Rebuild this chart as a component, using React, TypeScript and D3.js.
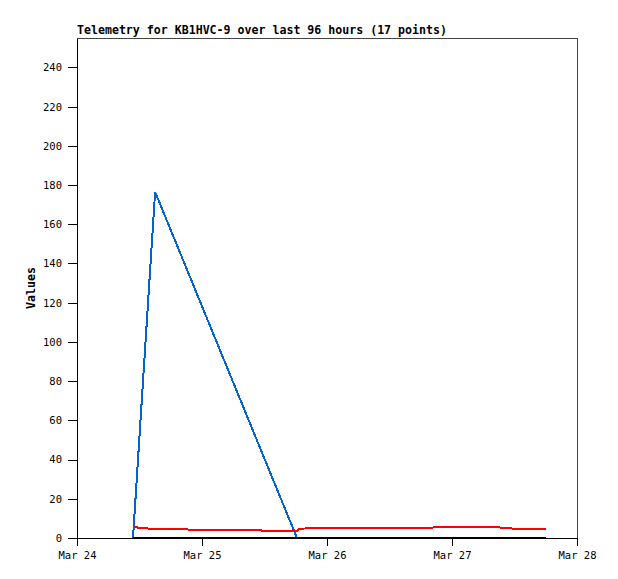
import * as d3 from "d3";
import { useEffect, useRef } from "react";

// sample times (Mar 24..27), 17 points
const TIMES = [
  "2024-03-24T10:45", "2024-03-24T11:42", "2024-03-24T13:50", "2024-03-24T15:00",
  "2024-03-24T21:42", "2024-03-25T05:22", "2024-03-25T11:43", "2024-03-25T18:14",
  "2024-03-25T18:49", "2024-03-26T05:11", "2024-03-26T14:00", "2024-03-26T19:47",
  "2024-03-27T01:32", "2024-03-27T07:18", "2024-03-27T11:43", "2024-03-27T14:59",
  "2024-03-27T18:03",
];
const BLUE = [0, null, null, 176.5, null, null, null, 0, 0, 0, 0, 0, 0, 0, 0, 0, 0];
const RED = [6.1, 5.3, 4.8, 4.8, 4.3, 4.3, 3.8, 3.6, 4.8, 5.3, 5.3, 5.3, 5.8, 5.8, 4.8, 4.8, 4.8];
const BLACK = [0, 0, 0, 0, 0, 0, 0, 0, 0, 0, 0, 0, 0, 0, 0, 0, 0];
const Y_TICKS = [0, 20, 40, 60, 80, 100, 120, 140, 160, 180, 200, 220, 240];
const TITLE = "Telemetry for KB1HVC-9 over last 96 hours (17 points)";

const MONO = "'DejaVu Sans Mono', 'Liberation Mono', monospace";

export default function App() {
  const ref = useRef<SVGSVGElement | null>(null);
  useEffect(() => {
    if (!ref.current) return;
    const svg = d3.select(ref.current);
    svg.selectAll("*").remove();
    const width = 618, height = 579;
    const m = { top: 38, right: 41, bottom: 41, left: 77 };
    const parse = d3.timeParse("%Y-%m-%dT%H:%M");
    const dates = TIMES.map((t) => parse(t) as Date);

    const x = d3.scaleTime()
      .domain([parse("2024-03-24T00:00") as Date, parse("2024-03-28T00:00") as Date])
      .range([m.left, width - m.right]);
    const y = d3.scaleLinear().domain([0, 255]).range([height - m.bottom, m.top]);

    svg.append("rect")
      .attr("x", m.left).attr("y", m.top)
      .attr("width", width - m.left - m.right).attr("height", height - m.top - m.bottom)
      .attr("fill", "white").attr("stroke", "#444").attr("stroke-width", 1)
      .attr("shape-rendering", "crispEdges");

    const series: { vals: (number | null)[]; color: string }[] = [
      { vals: BLUE, color: "#0066cc" },
      { vals: RED, color: "#ff0000" },
      { vals: BLACK, color: "#000000" },
    ];
    const line = d3.line<[Date, number | null]>()
      .defined((d) => d[1] != null)
      .x((d) => x(d[0]))
      .y((d) => y(d[1] as number));
    series.forEach((s) => {
      const pts = dates.map((d, i) => [d, s.vals[i]] as [Date, number | null]).filter((p) => p[1] != null);
      svg.append("path")
        .attr("d", line(pts))
        .attr("fill", "none")
        .attr("stroke", s.color)
        .attr("stroke-width", 2)
        .attr("shape-rendering", "crispEdges");
    });

    const ax = d3.axisBottom(x)
      .ticks(d3.timeDay.every(1))
      .tickFormat(d3.timeFormat("%b %d") as any)
      .tickSize(8).tickSizeOuter(0).tickPadding(6);
    const gx = svg.append("g").attr("transform", `translate(0,${height - m.bottom})`).call(ax as any);
    const ay = d3.axisLeft(y).tickValues(Y_TICKS).tickSize(9).tickSizeOuter(0).tickPadding(6);
    const gy = svg.append("g").attr("transform", `translate(${m.left},0)`).call(ay as any);
    [gx, gy].forEach((g) => {
      g.selectAll("text").attr("font-family", MONO).attr("font-size", 10.5).attr("fill", "#000");
      g.selectAll("line,path").attr("stroke", "#000").attr("shape-rendering", "crispEdges");
    });
    gx.select(".domain").attr("stroke-width", 1);

    svg.append("text")
      .attr("x", m.left).attr("y", 34)
      .attr("font-family", MONO).attr("font-size", 11.6).attr("font-weight", "bold")
      .text(TITLE);
    svg.append("text")
      .attr("transform", `translate(35,${(m.top + height - m.bottom) / 2}) rotate(-90)`)
      .attr("text-anchor", "middle")
      .attr("font-family", MONO).attr("font-size", 11.6).attr("font-weight", "bold")
      .text("Values");
  }, []);
  return (
    <div style={{ position: "absolute", left: 0, top: 0 }}>
      <svg ref={ref} width={618} height={579} style={{ display: "block", background: "white" }} />
    </div>
  );
}
